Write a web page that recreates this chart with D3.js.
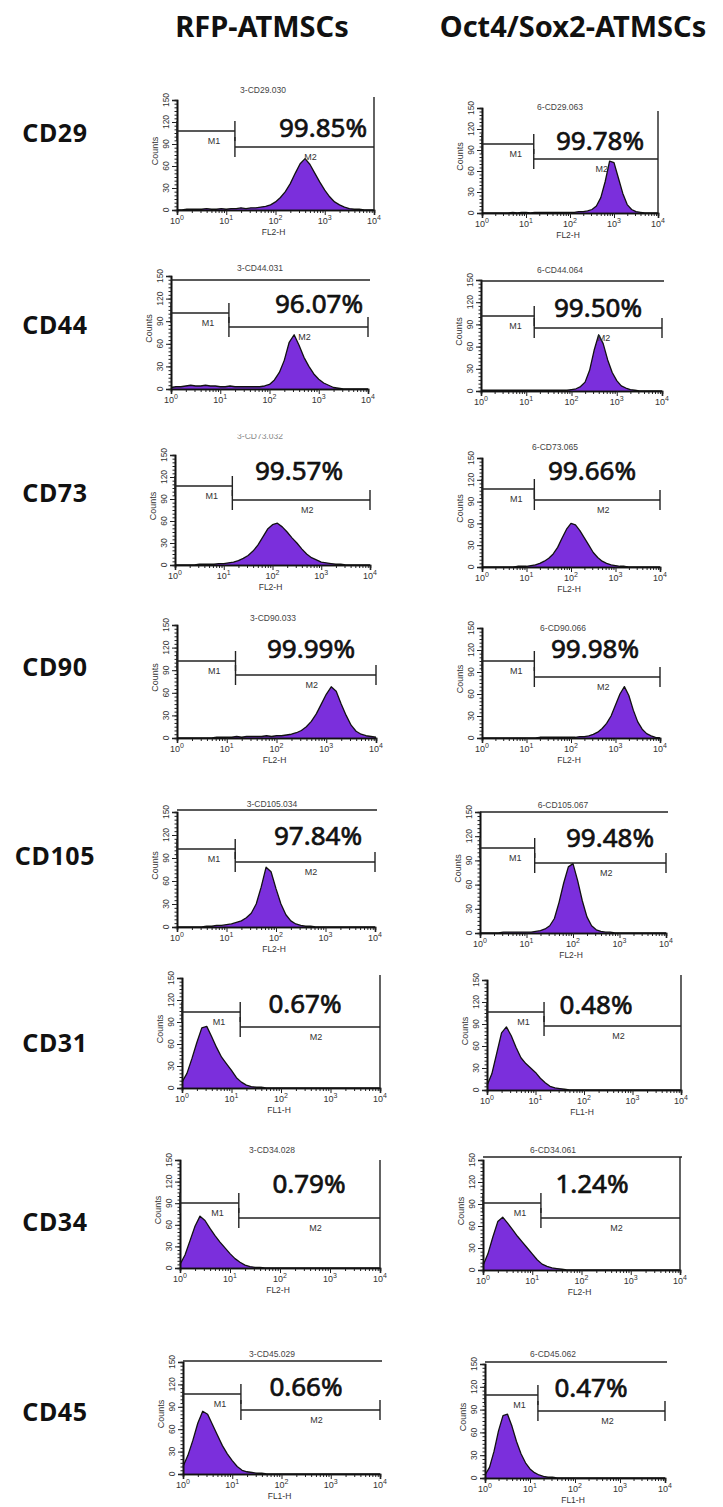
<!DOCTYPE html>
<html><head><meta charset="utf-8">
<script src="https://cdn.jsdelivr.net/npm/d3@7"></script>
<style>body{margin:0;background:#fff}svg{display:block}</style>
</head><body>
<script>
// ---------------- DATA ----------------
const markers = ["CD29","CD44","CD73","CD90","CD105","CD31","CD34","CD45"];
const groups = ["RFP-ATMSCs","Oct4/Sox2-ATMSCs"];
const percentRFP = ["99.85%","96.07%","99.57%","99.99%","97.84%","0.67%","0.79%","0.66%"];
const percentOct = ["99.78%","99.50%","99.66%","99.98%","99.48%","0.48%","1.24%","0.47%"];
const titlesRFP = ["3-CD29.030","3-CD44.031","3-CD73.032","3-CD90.033","3-CD105.034","","3-CD34.028","3-CD45.029"];
const titlesOct = ["6-CD29.063","6-CD44.064","6-CD73.065","6-CD90.066","6-CD105.067","","6-CD34.061","6-CD45.062"];
const channelRFP = ["FL2-H","","FL2-H","FL2-H","FL2-H","FL1-H","FL2-H","FL1-H"];
const channelOct = ["FL2-H","","FL2-H","FL2-H","FL2-H","FL1-H","FL2-H","FL1-H"];
const gateNames = ["M1","M2"];
const gateSplit = 15;          // M1 | M2 boundary (fluorescence)
const axisMin = 1, axisMax = 10000;
const yTicks = [0,30,60,90,120,150];
const yMinorTicks = [0,5,10,15,20,25,30,35,40,45,50,55,60,65,70,75,80,85,90,95,100,105,110,115,120,125,130,135,140,145,150];
const xDecades = [1,10,100,1000,10000];
const xMinorTicks = [2,3,4,5,6,7,8,9,20,30,40,50,60,70,80,90,200,300,400,500,600,700,800,900,2000,3000,4000,5000,6000,7000,8000,9000];
// histogram bins: log10 fluorescence
const binExp = [0,0.1,0.2,0.3,0.4,0.5,0.6,0.7,0.8,0.9,1,1.1,1.2,1.3,1.4,1.5,1.6,1.7,1.8,1.9,2,2.1,2.2,2.3,2.4,2.5,2.6,2.7,2.8,2.9,3,3.1,3.2,3.3,3.4,3.5,3.6,3.7,3.8,3.9,4];
const countsRFP_CD29  = [0,0,1,1,1,1,2,1,1,2, 1,2,2,3,2,3,3,4,5,7, 11,17,25,36,50,63,70,62,50,38, 27,18,11,7,4,2,1,1,0,0, 0];
const countsRFP_CD44  = [2,3,3,4,5,4,4,5,4,4, 3,3,4,3,3,3,3,3,3,4, 6,12,22,38,62,72,58,42,30,20, 13,8,5,2,1,0,0,0,0,0, 0];
const countsRFP_CD73  = [0,0,0,0,0,1,1,1,1,2, 2,3,4,6,9,13,19,27,38,49, 55,57,52,45,37,30,22,15,10,7, 4,3,2,1,1,0,0,0,0,0, 0];
const countsRFP_CD90  = [0,0,0,0,0,0,0,0,1,1, 1,1,2,1,2,2,2,2,3,2, 3,3,4,5,7,10,15,22,32,45, 58,68,62,45,30,17,9,5,3,2, 1];
const countsRFP_CD105 = [0,0,0,0,0,0,1,1,2,2, 3,4,6,8,12,18,30,52,78,72, 50,30,16,8,4,2,1,1,0,0, 0,0,0,0,0,0,0,0,0,0, 0];
const countsRFP_CD31  = [8,20,40,62,82,84,70,55,42,33, 24,14,8,4,2,1,1,0,0,0, 0,0,0,0,0,0,0,0,0,0, 0,0,0,0,0,0,0,0,0,0, 0];
const countsRFP_CD34  = [5,18,38,58,72,66,55,45,36,28, 20,13,8,4,2,1,1,0,0,0, 0,0,0,0,0,0,0,0,0,0, 0,0,0,0,0,0,0,0,0,0, 0];
const countsRFP_CD45  = [10,25,45,68,84,80,66,52,38,27, 18,10,5,3,2,1,1,0,0,0, 0,0,0,0,0,0,0,0,0,0, 0,0,0,0,0,0,0,0,0,0, 0];
const countsOct_CD29  = [0,0,0,0,0,0,0,1,0,1, 1,0,1,1,1,1,1,1,1,1, 1,1,2,2,3,5,10,22,45,74, 72,50,28,12,5,2,1,0,0,0, 0];
const countsOct_CD44  = [1,1,1,1,1,1,1,1,1,1, 1,1,1,1,1,1,1,1,1,1, 2,3,6,12,28,55,76,64,42,25, 14,7,4,2,1,0,0,0,0,0, 0];
const countsOct_CD73  = [0,0,0,0,0,0,0,0,1,1, 1,2,3,5,8,12,18,27,40,52, 60,58,50,40,30,20,13,8,5,3, 2,1,1,0,0,0,0,0,0,0, 0];
const countsOct_CD90  = [0,0,0,0,0,0,0,0,0,0, 0,0,0,1,1,1,1,1,1,1, 1,1,2,2,3,5,8,13,20,30, 45,60,70,58,38,22,12,6,3,1, 0];
const countsOct_CD105 = [0,0,0,0,0,1,1,1,1,1, 1,1,2,3,5,9,18,38,62,82, 86,65,40,20,9,4,2,1,1,0, 0,0,0,0,0,0,0,0,0,0, 0];
const countsOct_CD31  = [6,22,50,78,86,74,58,44,36,30, 24,16,10,5,3,2,1,0,0,0, 0,0,0,0,0,0,0,0,0,0, 0,0,0,0,0,0,0,0,0,0, 0];
const countsOct_CD34  = [6,22,45,66,72,64,55,46,38,30, 22,14,8,5,3,2,1,0,0,0, 0,0,0,0,0,0,0,0,0,0, 0,0,0,0,0,0,0,0,0,0, 0];
const countsOct_CD45  = [4,14,35,62,82,84,68,48,32,20, 12,7,4,2,1,1,0,0,0,0, 0,0,0,0,0,0,0,0,0,0, 0,0,0,0,0,0,0,0,0,0, 0];
const countsRFP = [countsRFP_CD29,countsRFP_CD44,countsRFP_CD73,countsRFP_CD90,countsRFP_CD105,countsRFP_CD31,countsRFP_CD34,countsRFP_CD45];
const countsOct = [countsOct_CD29,countsOct_CD44,countsOct_CD73,countsOct_CD90,countsOct_CD105,countsOct_CD31,countsOct_CD34,countsOct_CD45];

// ---------------- LAYOUT ----------------
const rowLabelY = [142,334,502,676,865,1052,1231,1421];
const layoutRFP = [
 {x0:177,x1:374,top:100,base:210,m1:131,m2:147,px:323,py:137,tx:263,ty:93,rightTop:97,allY:null},
 {x0:171,x1:368,top:276,base:389,m1:313,m2:327,px:319,py:313,tx:260,ty:271,rightTop:null,allY:280},
 {x0:175,x1:370,top:455,base:565,m1:486,m2:500,px:299,py:480,tx:260,ty:439,rightTop:null,allY:null,clipTop:434},
 {x0:177,x1:376,top:625,base:738,m1:661,m2:675,px:311,py:658,tx:273,ty:621,rightTop:null,allY:null},
 {x0:177,x1:375,top:812,base:927,m1:849,m2:862,px:318,py:845,tx:272,ty:807,rightTop:null,allY:810},
 {x0:182,x1:380,top:978,base:1088,m1:1012,m2:1027,px:305,py:1013,tx:0,ty:0,rightTop:975,allY:null},
 {x0:180,x1:380,top:1160,base:1268,m1:1203,m2:1218,px:309,py:1193,tx:272,ty:1153,rightTop:1160,allY:null},
 {x0:183,x1:380,top:1362,base:1474,m1:1394,m2:1410,px:306,py:1396,tx:272,ty:1357,rightTop:null,allY:1361}
];
const layoutOct = [
 {x0:482,x1:658,top:108,base:213,m1:144,m2:159,px:600,py:150,tx:560,ty:110,rightTop:111,allY:null},
 {x0:481,x1:662,top:280,base:391,m1:316,m2:328,px:598,py:317,tx:560,ty:273,rightTop:null,allY:281},
 {x0:482,x1:660,top:458,base:567,m1:489,m2:500,px:592,py:480,tx:555,ty:450,rightTop:null,allY:null},
 {x0:482,x1:660,top:628,base:738,m1:661,m2:677,px:595,py:658,tx:563,ty:631,rightTop:null,allY:null},
 {x0:480,x1:666,top:812,base:933,m1:848,m2:863,px:610,py:847,tx:563,ty:808,rightTop:null,allY:812},
 {x0:487,x1:681,top:980,base:1090,m1:1012,m2:1026,px:596,py:1014,tx:0,ty:0,rightTop:975,allY:null},
 {x0:483,x1:680,top:1160,base:1270,m1:1203,m2:1218,px:592,py:1193,tx:553,ty:1153,rightTop:1157,allY:1157},
 {x0:485,x1:665,top:1364,base:1478,m1:1395,m2:1411,px:591,py:1397,tx:553,ty:1357,rightTop:null,allY:1362}
];

const purple = "#7b2fdc";
const smallFont = "'Liberation Sans', Arial, sans-serif";
const bigFont = "'Noto Sans', 'Open Sans', sans-serif";

const svg = d3.select("body").append("svg").attr("width",723).attr("height",1507);
svg.append("rect").attr("width",723).attr("height",1507).attr("fill","#fff");

// column headers
const headerX = [262, 573];
svg.selectAll("text.header").data(groups).join("text")
  .attr("class","header")
  .attr("x",(d,i)=>headerX[i]).attr("y",37)
  .attr("text-anchor","middle")
  .attr("font-family",bigFont).attr("font-weight",700).attr("font-size",29)
  .attr("fill","#111").text(d=>d);

// row labels
svg.selectAll("text.rowlab").data(markers).join("text")
  .attr("class","rowlab")
  .attr("x",55).attr("y",(d,i)=>rowLabelY[i])
  .attr("text-anchor","middle")
  .attr("font-family",bigFont).attr("font-weight",700).attr("font-size",25)
  .attr("letter-spacing",0.6)
  .attr("fill","#111").text(d=>d);

function drawPanel(L, counts, title, pct, channel, idx){
  const g = svg.append("g");
  const x = d3.scaleLog().domain([axisMin,axisMax]).range([L.x0,L.x1]);
  const y = d3.scaleLinear().domain([0,150]).range([L.base,L.top]);
  const pts = binExp.map((e,i)=>({v:Math.pow(10,e), c:counts[i]}));

  // histogram
  const area = d3.area().x(d=>x(d.v)).y0(L.base).y1(d=>y(d.c));
  g.append("path").datum(pts).attr("d",area).attr("fill",purple);
  const line = d3.line().x(d=>x(d.v)).y(d=>y(d.c));
  g.append("path").datum(pts).attr("d",line).attr("fill","none")
    .attr("stroke","#111").attr("stroke-width",1.3).attr("stroke-linejoin","round");

  // x axis
  const gx = g.append("g").attr("transform",`translate(0,${L.base})`);
  gx.call(d3.axisBottom(x).tickValues(xMinorTicks).tickSize(3).tickFormat(""));
  gx.call(g2=>g2.append("g").call(d3.axisBottom(x).tickValues(xDecades).tickSize(5).tickFormat("")));
  gx.selectAll(".domain").attr("stroke","#111").attr("stroke-width",1.6);
  gx.selectAll(".tick line").attr("stroke","#222").attr("stroke-width",1);
  const xl = g.selectAll("text.xl").data(xDecades).join("text")
    .attr("x",d=>x(d)).attr("y",L.base+14).attr("text-anchor","middle")
    .attr("font-family",smallFont).attr("font-size",9).attr("fill","#333");
  xl.append("tspan").text("10");
  xl.append("tspan").attr("dy",-4).attr("font-size",7).text(d=>Math.round(Math.log10(d)));
  if(channel){
    g.append("text").attr("x",(L.x0+L.x1)/2 - 2).attr("y",L.base+25).attr("text-anchor","middle")
      .attr("font-family",smallFont).attr("font-size",8.5).attr("fill","#333").text(channel);
  }

  // y axis
  const gy = g.append("g").attr("transform",`translate(${L.x0},0)`);
  gy.call(d3.axisLeft(y).tickValues(yMinorTicks).tickSize(2.5).tickFormat(""));
  gy.call(g2=>g2.append("g").call(d3.axisLeft(y).tickValues(yTicks).tickSize(5).tickFormat("")));
  gy.selectAll(".domain").attr("stroke","#111").attr("stroke-width",1.6);
  gy.selectAll(".tick line").attr("stroke","#222").attr("stroke-width",1);
  g.selectAll("text.yl").data(yTicks).join("text")
    .attr("transform",d=>`translate(${L.x0-8},${y(d)}) rotate(-90)`)
    .attr("text-anchor","middle")
    .attr("font-family",smallFont).attr("font-size",8.5).attr("fill","#333").text(d=>d);
  g.append("text").attr("transform",`translate(${L.x0-19},${(L.top+L.base)/2 - 4}) rotate(-90)`)
    .attr("text-anchor","middle").attr("font-family",smallFont).attr("font-size",9)
    .attr("fill","#333").text("Counts");

  // title
  if(title){
    const t = g.append("text").attr("x",L.tx).attr("y",L.ty).attr("text-anchor","middle")
      .attr("font-family",smallFont).attr("font-size",8.5).attr("fill","#444").text(title);
    if(L.clipTop){
      const id = "clip"+idx;
      svg.append("clipPath").attr("id",id).append("rect").attr("x",0).attr("y",L.clipTop).attr("width",723).attr("height",40);
      t.attr("clip-path",`url(#${id})`).attr("fill","#888");
    }
  }

  // all-events line
  if(L.allY!==null){
    g.append("line").attr("x1",L.x0).attr("x2",x(axisMax)+2).attr("y1",L.allY).attr("y2",L.allY)
      .attr("stroke","#222").attr("stroke-width",1.3);
  }

  // gates
  const xs = x(gateSplit), xe = x(axisMax);
  const st = {stroke:"#222","stroke-width":1.4};
  function ln(x1,y1,x2,y2){ const l=g.append("line").attr("x1",x1).attr("y1",y1).attr("x2",x2).attr("y2",y2); for(const k in st) l.attr(k,st[k]); }
  ln(L.x0,L.m1,xs,L.m1); ln(L.x0,L.m1-10,L.x0,L.m1+10); ln(xs,L.m1-10,xs,L.m1+10);
  ln(xs,L.m2,xe,L.m2); ln(xs,L.m2-10,xs,L.m2+10);
  if(L.rightTop!==null) ln(xe,L.rightTop,xe,L.base); else ln(xe,L.m2-10,xe,L.m2+10);
  g.append("text").attr("x",(L.x0+xs)/2+8).attr("y",L.m1+13).attr("text-anchor","middle")
    .attr("font-family",smallFont).attr("font-size",9).attr("fill","#333").text(gateNames[0]);
  g.append("text").attr("x",(xs+xe)/2+6).attr("y",L.m2+13).attr("text-anchor","middle")
    .attr("font-family",smallFont).attr("font-size",9).attr("fill","#333").text(gateNames[1]);

  // percentage
  g.append("text").attr("x",L.px).attr("y",L.py).attr("text-anchor","middle")
    .attr("font-family",bigFont).attr("font-size",26).attr("fill","#111")
    .attr("stroke","#111").attr("stroke-width",0.7).attr("paint-order","stroke").text(pct);
}

markers.forEach((m,i)=>{
  drawPanel(layoutRFP[i], countsRFP[i], titlesRFP[i], percentRFP[i], channelRFP[i], "L"+i);
  drawPanel(layoutOct[i], countsOct[i], titlesOct[i], percentOct[i], channelOct[i], "R"+i);
});
</script>
</body></html>
